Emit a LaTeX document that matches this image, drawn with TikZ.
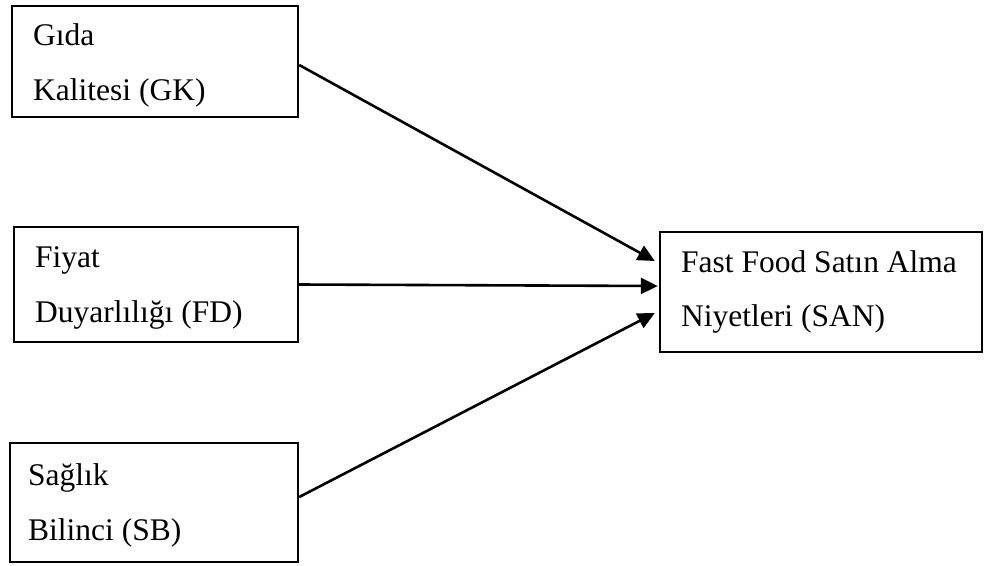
\documentclass[tikz,border=0pt]{standalone}
\usepackage{fontspec}
\setmainfont{Liberation Serif}
\usetikzlibrary{arrows.meta}
\begin{document}
\begin{tikzpicture}[x=1pt,y=-1pt,
  box/.style={draw=black, line width=2.4pt, rectangle, inner sep=0pt},
  lbl/.style={anchor=base west, inner sep=0pt, font=\fontsize{31.5}{36}\selectfont},
  arr/.style={draw=black, line width=2.6pt, -{Triangle[length=17pt,width=16pt]}}]
\useasboundingbox (0,0) rectangle (984,565);
\fill[white] (0,0) rectangle (984,565);

% factor boxes on the left
\node[box, minimum width=286pt, minimum height=111pt] (gk) at (155,61.5) {};
\node[box, minimum width=284pt, minimum height=115pt] (fd) at (156,284.5) {};
\node[box, minimum width=288pt, minimum height=119pt] (sb) at (154,502.5) {};
% outcome box on the right
\node[box, minimum width=322pt, minimum height=120pt] (san) at (821,292) {};

% box labels
\node[lbl] (gk1) at (33,45) {Gıda};
\node[lbl] (gk2) at (33,100) {Kalitesi (GK)};
\node[lbl] (fd1) at (35,267) {Fiyat};
\node[lbl] (fd2) at (35,322) {Duyarlılığı (FD)};
\node[lbl] (sb1) at (28,485) {Sağlık};
\node[lbl] (sb2) at (28,540) {Bilinci (SB)};
\node[lbl] (san1) at (681,272) {Fast Food Satın Alma};
\node[lbl] (san2) at (681,326) {Niyetleri (SAN)};

% paths of influence
\draw[arr] ([yshift=-3.5pt]gk.east) -- ([xshift=-4pt,yshift=31pt]san.west);
\draw[arr] (fd.east) -- ([xshift=-1pt,yshift=6pt]san.west);
\draw[arr] ([yshift=5.5pt]sb.east) -- ([xshift=-4pt,yshift=-21pt]san.west);
\end{tikzpicture}
\end{document}
